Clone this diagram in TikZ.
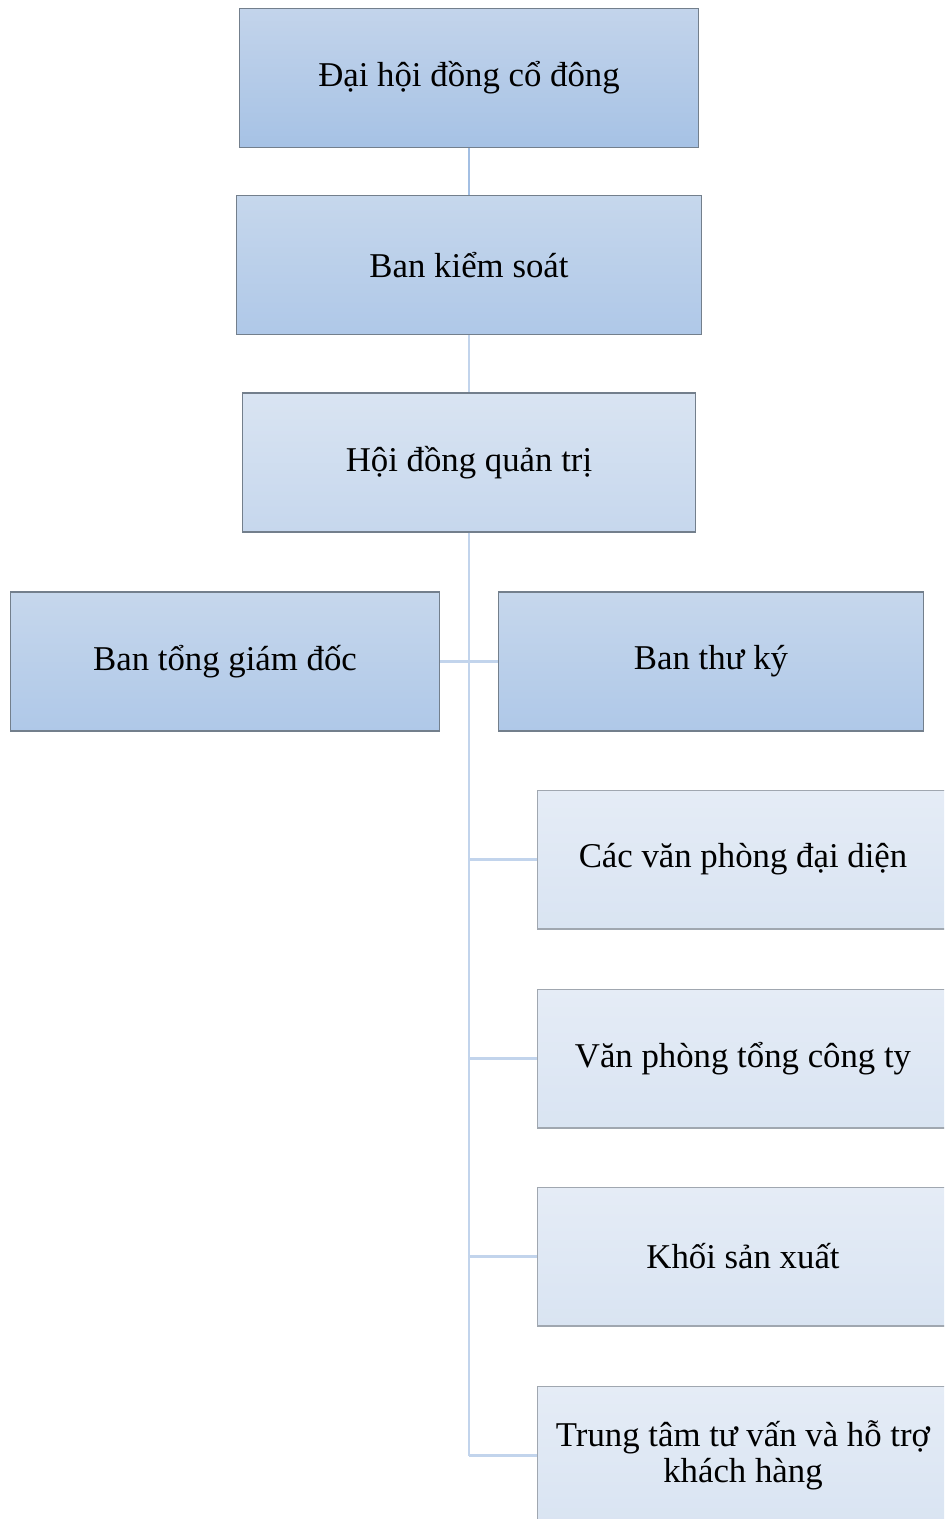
\documentclass[tikz,border=0pt]{standalone}
\usepackage{fontspec}
\setmainfont{Liberation Serif}
\usepackage{tikz}
\tikzset{box/.style={draw=boxline, line width=0.6pt, minimum height=2.78cm,
   align=center, font=\fontsize{19.8}{20.6}\selectfont, inner sep=2pt},
 dark/.style={box, top color=darktop, bottom color=darkbot},
 mid/.style={box, top color=midtop, bottom color=midbot},
 pale/.style={box, top color=paletop, bottom color=palebot},
 light/.style={box, draw=lightline, top color=lighttop, bottom color=lightbot},
 link/.style={draw=linkcol, line width=1.5pt},
 }
\definecolor{boxline}{HTML}{737F8C}
\definecolor{lightline}{HTML}{A0A7B0}
\definecolor{darktop}{HTML}{C3D4EB}
\definecolor{darkbot}{HTML}{A6C2E5}
\definecolor{midtop}{HTML}{C6D7EC}
\definecolor{midbot}{HTML}{AFC8E8}
\definecolor{paletop}{HTML}{D9E4F2}
\definecolor{palebot}{HTML}{C6D7ED}
\definecolor{lighttop}{HTML}{E5ECF6}
\definecolor{lightbot}{HTML}{D9E4F2}
\definecolor{linkcol}{HTML}{C2D4EC}
\definecolor{toplink}{HTML}{A3BFE3}

\begin{document}
\begin{tikzpicture}[x=0.02cm, y=-0.02cm]
        \useasboundingbox (0,0) rectangle (944,1519);
        \clip (0,0) rectangle (944,1519);
        % upper chain
        \node[dark, minimum width=9.2cm] (dhcd) at (469,78) {Đại hội đồng cổ đông};
        \node[mid, minimum width=9.32cm] (bks) at (469,265) {Ban kiểm soát};
        \node[pale, minimum width=9.08cm] (hdqt) at (469,462.5) {Hội đồng quản trị};
        \node[mid, minimum width=8.6cm] (btgd) at (225,661.5) {Ban tổng giám đốc};
        \node[mid, minimum width=8.52cm] (btk) at (711,661.5) {Ban thư ký};
        % departments
        \node[light, minimum width=8.24cm] (vpdd) at (743,859.5) {Các văn phòng đại diện};
        \node[light, minimum width=8.24cm] (vptct) at (743,1058.5) {Văn phòng tổng công ty};
        \node[light, minimum width=8.24cm] (ksx) at (743,1256.5) {Khối sản xuất};
        \node[light, minimum width=8.24cm] (tttv) at (743,1455.5) {Trung tâm tư vấn và hỗ trợ\\khách hàng};
        \draw[link, draw=toplink] (dhcd) -- (bks);
        \draw[link] (bks) -- (hdqt);
        \draw[link] (hdqt.south) -- (hdqt.south |- tttv.west);
        \draw[link] (btgd.east) -- (btk.west);
        \foreach \n in {vpdd, vptct, ksx, tttv} {
            \draw[link] (hdqt.south |- \n.west) -- (\n.west);
        }
    \end{tikzpicture}
\end{document}
